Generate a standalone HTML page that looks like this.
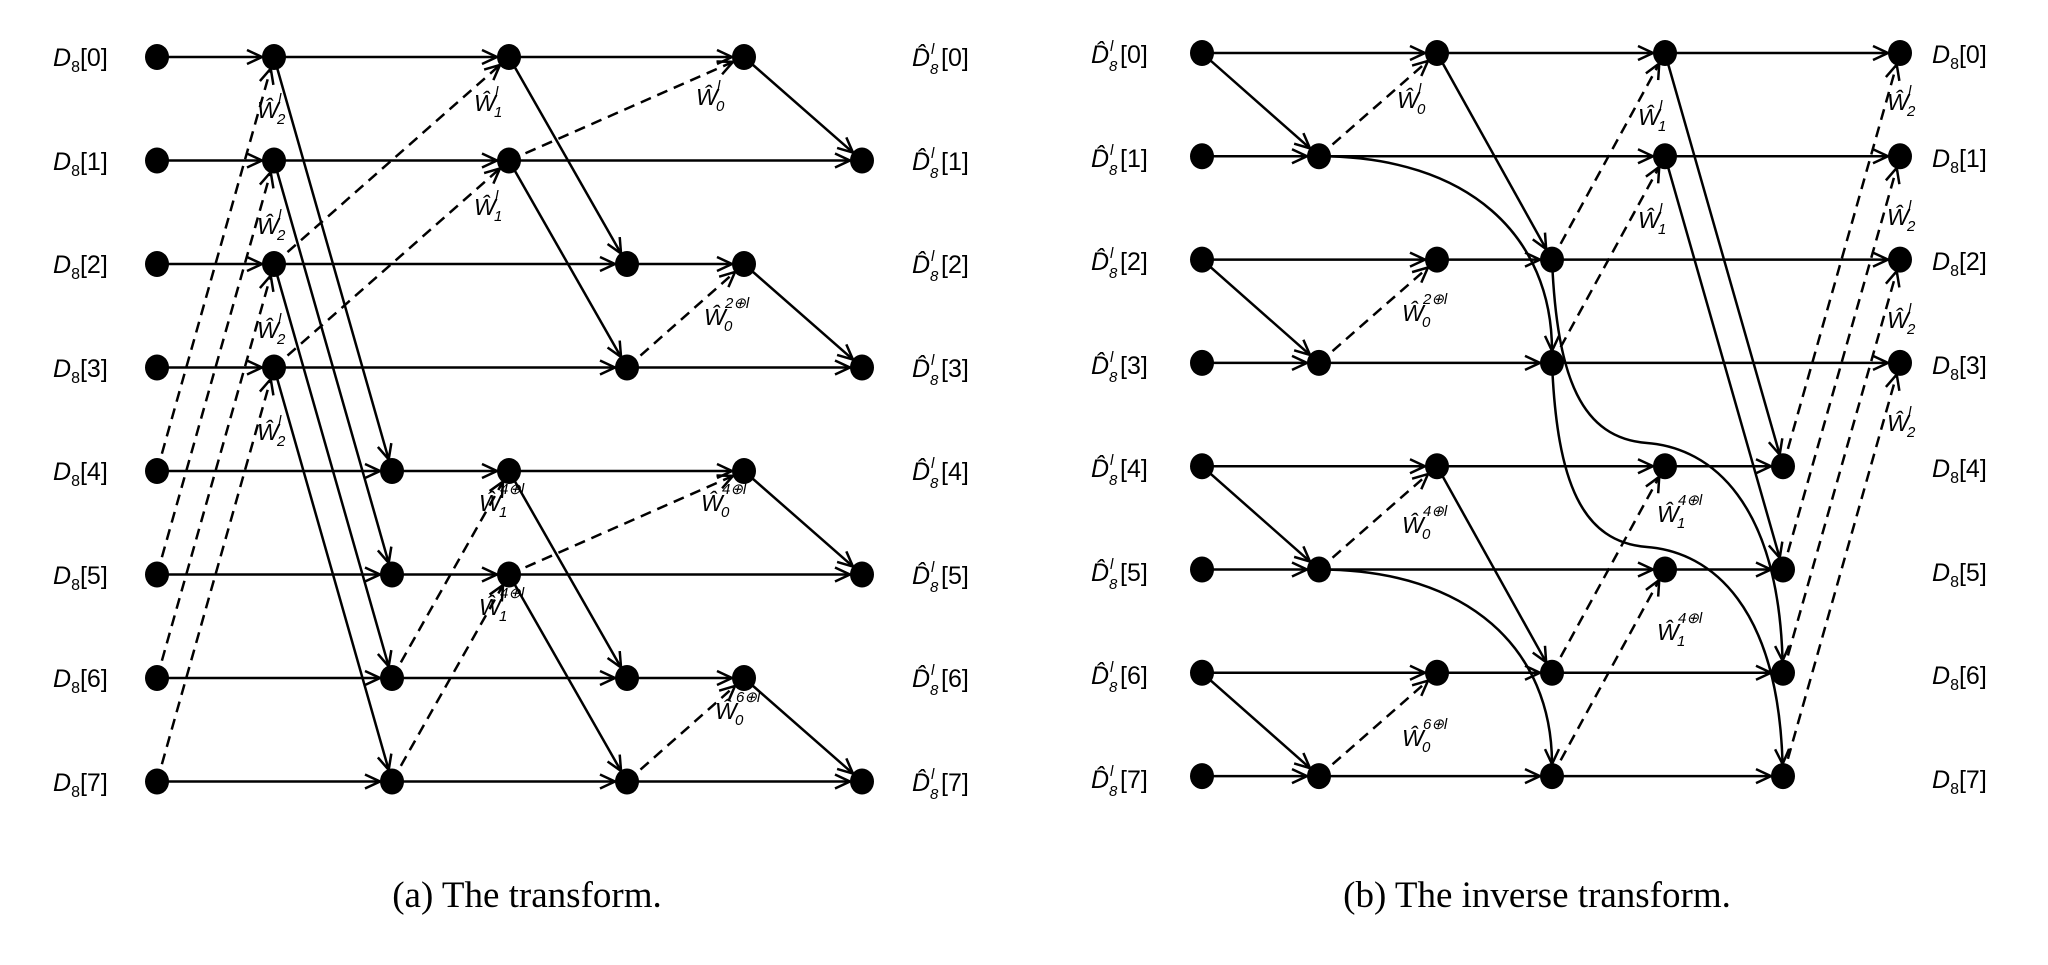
<!DOCTYPE html>
<html><head><meta charset="utf-8"><style>
html,body{margin:0;padding:0;background:#fff;}
svg{display:block;}
.L{font-family:"Liberation Sans",sans-serif;font-size:25px;fill:#000;}
.i{font-style:italic;}
.s{font-family:"Liberation Sans",sans-serif;font-size:15px;fill:#000;font-style:italic;}
.w{font-family:"Liberation Sans",sans-serif;font-size:23px;font-style:italic;fill:#000;}
.cap{font-family:"Liberation Serif",serif;font-size:37px;fill:#000;}
</style></head><body>
<svg id="g" width="2048" height="965" viewBox="0 0 2048 965" xmlns="http://www.w3.org/2000/svg">
<g id="edges"></g><g id="nodes"></g>
<!-- Left input labels -->
<text x="53" y="66" class="L"><tspan class="i">D</tspan><tspan font-size="16" dy="6">8</tspan><tspan dy="-6">[0]</tspan></text>
<text x="53" y="170" class="L"><tspan class="i">D</tspan><tspan font-size="16" dy="6">8</tspan><tspan dy="-6">[1]</tspan></text>
<text x="53" y="273" class="L"><tspan class="i">D</tspan><tspan font-size="16" dy="6">8</tspan><tspan dy="-6">[2]</tspan></text>
<text x="53" y="377" class="L"><tspan class="i">D</tspan><tspan font-size="16" dy="6">8</tspan><tspan dy="-6">[3]</tspan></text>
<text x="53" y="480" class="L"><tspan class="i">D</tspan><tspan font-size="16" dy="6">8</tspan><tspan dy="-6">[4]</tspan></text>
<text x="53" y="584" class="L"><tspan class="i">D</tspan><tspan font-size="16" dy="6">8</tspan><tspan dy="-6">[5]</tspan></text>
<text x="53" y="687" class="L"><tspan class="i">D</tspan><tspan font-size="16" dy="6">8</tspan><tspan dy="-6">[6]</tspan></text>
<text x="53" y="791" class="L"><tspan class="i">D</tspan><tspan font-size="16" dy="6">8</tspan><tspan dy="-6">[7]</tspan></text>
<!-- Left output hat labels -->
<g transform="translate(-21,0)">
<text x="933" y="66" class="L i">D̂</text><text x="952" y="54" class="s">l</text><text x="951" y="74" class="s" font-style="normal">8</text><text x="962" y="66" class="L">[0]</text>
<text x="933" y="170" class="L i">D̂</text><text x="952" y="158" class="s">l</text><text x="951" y="178" class="s" font-style="normal">8</text><text x="962" y="170" class="L">[1]</text>
<text x="933" y="273" class="L i">D̂</text><text x="952" y="261" class="s">l</text><text x="951" y="281" class="s" font-style="normal">8</text><text x="962" y="273" class="L">[2]</text>
<text x="933" y="377" class="L i">D̂</text><text x="952" y="365" class="s">l</text><text x="951" y="385" class="s" font-style="normal">8</text><text x="962" y="377" class="L">[3]</text>
<text x="933" y="480" class="L i">D̂</text><text x="952" y="468" class="s">l</text><text x="951" y="488" class="s" font-style="normal">8</text><text x="962" y="480" class="L">[4]</text>
<text x="933" y="584" class="L i">D̂</text><text x="952" y="572" class="s">l</text><text x="951" y="592" class="s" font-style="normal">8</text><text x="962" y="584" class="L">[5]</text>
<text x="933" y="687" class="L i">D̂</text><text x="952" y="675" class="s">l</text><text x="951" y="695" class="s" font-style="normal">8</text><text x="962" y="687" class="L">[6]</text>
<text x="933" y="791" class="L i">D̂</text><text x="952" y="779" class="s">l</text><text x="951" y="799" class="s" font-style="normal">8</text><text x="962" y="791" class="L">[7]</text>
</g>
<!-- Right input hat labels -->
<text x="1091" y="63" class="L i">D̂</text><text x="1110" y="51" class="s">l</text><text x="1109" y="71" class="s" font-style="normal">8</text><text x="1120" y="63" class="L">[0]</text>
<text x="1091" y="167" class="L i">D̂</text><text x="1110" y="155" class="s">l</text><text x="1109" y="175" class="s" font-style="normal">8</text><text x="1120" y="167" class="L">[1]</text>
<text x="1091" y="270" class="L i">D̂</text><text x="1110" y="258" class="s">l</text><text x="1109" y="278" class="s" font-style="normal">8</text><text x="1120" y="270" class="L">[2]</text>
<text x="1091" y="374" class="L i">D̂</text><text x="1110" y="362" class="s">l</text><text x="1109" y="382" class="s" font-style="normal">8</text><text x="1120" y="374" class="L">[3]</text>
<text x="1091" y="477" class="L i">D̂</text><text x="1110" y="465" class="s">l</text><text x="1109" y="485" class="s" font-style="normal">8</text><text x="1120" y="477" class="L">[4]</text>
<text x="1091" y="581" class="L i">D̂</text><text x="1110" y="569" class="s">l</text><text x="1109" y="589" class="s" font-style="normal">8</text><text x="1120" y="581" class="L">[5]</text>
<text x="1091" y="684" class="L i">D̂</text><text x="1110" y="672" class="s">l</text><text x="1109" y="692" class="s" font-style="normal">8</text><text x="1120" y="684" class="L">[6]</text>
<text x="1091" y="788" class="L i">D̂</text><text x="1110" y="776" class="s">l</text><text x="1109" y="796" class="s" font-style="normal">8</text><text x="1120" y="788" class="L">[7]</text>
<!-- Right output labels -->
<g transform="translate(-15,0)">
<text x="1947" y="63" class="L"><tspan class="i">D</tspan><tspan font-size="16" dy="6">8</tspan><tspan dy="-6">[0]</tspan></text>
<text x="1947" y="167" class="L"><tspan class="i">D</tspan><tspan font-size="16" dy="6">8</tspan><tspan dy="-6">[1]</tspan></text>
<text x="1947" y="270" class="L"><tspan class="i">D</tspan><tspan font-size="16" dy="6">8</tspan><tspan dy="-6">[2]</tspan></text>
<text x="1947" y="374" class="L"><tspan class="i">D</tspan><tspan font-size="16" dy="6">8</tspan><tspan dy="-6">[3]</tspan></text>
<text x="1947" y="477" class="L"><tspan class="i">D</tspan><tspan font-size="16" dy="6">8</tspan><tspan dy="-6">[4]</tspan></text>
<text x="1947" y="581" class="L"><tspan class="i">D</tspan><tspan font-size="16" dy="6">8</tspan><tspan dy="-6">[5]</tspan></text>
<text x="1947" y="684" class="L"><tspan class="i">D</tspan><tspan font-size="16" dy="6">8</tspan><tspan dy="-6">[6]</tspan></text>
<text x="1947" y="788" class="L"><tspan class="i">D</tspan><tspan font-size="16" dy="6">8</tspan><tspan dy="-6">[7]</tspan></text>
</g>
<!-- W labels left -->
<g transform="translate(-9,0)">
<text x="266" y="118" class="w">Ŵ</text><text x="287" y="104" class="s">l</text><text x="286" y="124" class="s" font-style="normal">2</text>
<text x="266" y="234" class="w">Ŵ</text><text x="287" y="220" class="s">l</text><text x="286" y="240" class="s" font-style="normal">2</text>
<text x="266" y="338" class="w">Ŵ</text><text x="287" y="324" class="s">l</text><text x="286" y="344" class="s" font-style="normal">2</text>
<text x="266" y="440" class="w">Ŵ</text><text x="287" y="426" class="s">l</text><text x="286" y="446" class="s" font-style="normal">2</text>
</g>
<g transform="translate(-10,0)">
<text x="484" y="111" class="w">Ŵ</text><text x="505" y="97" class="s">l</text><text x="504" y="117" class="s" font-style="normal">1</text>
<text x="484" y="215" class="w">Ŵ</text><text x="505" y="201" class="s">l</text><text x="504" y="221" class="s" font-style="normal">1</text>
</g>
<g transform="translate(-14,0)">
<text x="710" y="105" class="w">Ŵ</text><text x="731" y="91" class="s">l</text><text x="730" y="111" class="s" font-style="normal">0</text>
<text x="718" y="325" class="w">Ŵ</text><text x="739" y="308" class="s" font-style="normal">2⊕<tspan font-style="italic">l</tspan></text><text x="738" y="331" class="s" font-style="normal">0</text>
</g>
<g transform="translate(-11,0)">
<text x="490" y="511" class="w">Ŵ</text><text x="511" y="494" class="s" font-style="normal">4⊕<tspan font-style="italic">l</tspan></text><text x="510" y="517" class="s" font-style="normal">1</text>
<text x="490" y="615" class="w">Ŵ</text><text x="511" y="598" class="s" font-style="normal">4⊕<tspan font-style="italic">l</tspan></text><text x="510" y="621" class="s" font-style="normal">1</text>
</g>
<g transform="translate(-15,0)">
<text x="716" y="511" class="w">Ŵ</text><text x="737" y="494" class="s" font-style="normal">4⊕<tspan font-style="italic">l</tspan></text><text x="736" y="517" class="s" font-style="normal">0</text>
<text x="730" y="719" class="w">Ŵ</text><text x="751" y="702" class="s" font-style="normal">6⊕<tspan font-style="italic">l</tspan></text><text x="750" y="725" class="s" font-style="normal">0</text>
</g>
<!-- W labels right -->
<g transform="translate(-7,0)">
<text x="1404" y="108" class="w">Ŵ</text><text x="1425" y="94" class="s">l</text><text x="1424" y="114" class="s" font-style="normal">0</text>
</g>
<g transform="translate(-13,0)">
<text x="1651" y="125" class="w">Ŵ</text><text x="1672" y="111" class="s">l</text><text x="1671" y="131" class="s" font-style="normal">1</text>
<text x="1651" y="228" class="w">Ŵ</text><text x="1672" y="214" class="s">l</text><text x="1671" y="234" class="s" font-style="normal">1</text>
</g>
<g transform="translate(-17,0)">
<text x="1904" y="110" class="w">Ŵ</text><text x="1925" y="96" class="s">l</text><text x="1924" y="116" class="s" font-style="normal">2</text>
<text x="1904" y="225" class="w">Ŵ</text><text x="1925" y="211" class="s">l</text><text x="1924" y="231" class="s" font-style="normal">2</text>
<text x="1904" y="328" class="w">Ŵ</text><text x="1925" y="314" class="s">l</text><text x="1924" y="334" class="s" font-style="normal">2</text>
<text x="1904" y="431" class="w">Ŵ</text><text x="1925" y="417" class="s">l</text><text x="1924" y="437" class="s" font-style="normal">2</text>
</g>
<g transform="translate(-8,0)">
<text x="1410" y="321" class="w">Ŵ</text><text x="1431" y="304" class="s" font-style="normal">2⊕<tspan font-style="italic">l</tspan></text><text x="1430" y="327" class="s" font-style="normal">0</text>
<text x="1410" y="533" class="w">Ŵ</text><text x="1431" y="516" class="s" font-style="normal">4⊕<tspan font-style="italic">l</tspan></text><text x="1430" y="539" class="s" font-style="normal">0</text>
<text x="1410" y="746" class="w">Ŵ</text><text x="1431" y="729" class="s" font-style="normal">6⊕<tspan font-style="italic">l</tspan></text><text x="1430" y="752" class="s" font-style="normal">0</text>
</g>
<g transform="translate(-13,0)">
<text x="1670" y="522" class="w">Ŵ</text><text x="1691" y="505" class="s" font-style="normal">4⊕<tspan font-style="italic">l</tspan></text><text x="1690" y="528" class="s" font-style="normal">1</text>
<text x="1670" y="640" class="w">Ŵ</text><text x="1691" y="623" class="s" font-style="normal">4⊕<tspan font-style="italic">l</tspan></text><text x="1690" y="646" class="s" font-style="normal">1</text>
</g>
<!-- captions -->
<text x="527" y="907" class="cap" text-anchor="middle">(a) The transform.</text>
<text x="1537" y="907" class="cap" text-anchor="middle">(b) The inverse transform.</text>
</svg>
<script>
(function(){
var NS="http://www.w3.org/2000/svg";
var E=document.getElementById("edges"),N=document.getElementById("nodes");
var R=12;
function el(t,a,p){var e=document.createElementNS(NS,t);for(var k in a)e.setAttribute(k,a[k]);p.appendChild(e);return e;}
function head(tx,ty,dx,dy){var L=Math.hypot(dx,dy);dx/=L;dy/=L;var len=15,w=7;
 var bx=tx-dx*len,by=ty-dy*len,px=-dy,py=dx;
 el("path",{d:"M"+(bx+px*w)+","+(by+py*w)+"L"+tx+","+ty+"L"+(bx-px*w)+","+(by-py*w),fill:"none",stroke:"#000","stroke-width":2.5},E);}
function line(x1,y1,x2,y2,d){var dx=x2-x1,dy=y2-y1,L=Math.hypot(dx,dy);
 var tx=x2-dx/L*R,ty=y2-dy/L*R;
 var a={x1:x1,y1:y1,x2:tx,y2:ty,stroke:"#000","stroke-width":2.5};if(d)a["stroke-dasharray"]="11 7";
 el("line",a,E);head(tx,ty,dx,dy);}
function curve(p,cx,cy,ex,ey){
 var dx=ex-cx,dy=ey-cy,L=Math.hypot(dx,dy);var tx=ex-dx/L*R,ty=ey-dy/L*R;
 el("path",{d:p+" "+tx+","+ty,fill:"none",stroke:"#000","stroke-width":2.5},E);head(tx,ty,dx,dy);}
function dot(x,y){el("ellipse",{cx:x,cy:y,rx:12,ry:13,fill:"#000"},N);}
// Left
var X=[157,274,392,509,627,744,862];function Y(i){return 57+103.5*i;}
var rowsL=[[0,1,3,5],[0,1,3,6],[0,1,4,5],[0,1,4,6],[0,2,3,5],[0,2,3,6],[0,2,4,5],[0,2,4,6]];
rowsL.forEach(function(r,i){r.forEach(function(c,j){dot(X[c],Y(i));if(j>0)line(X[r[j-1]],Y(i),X[c],Y(i));});});
function LL(a,b,c,d,dash){line(X[a],Y(b),X[c],Y(d),dash);}
for(var k=0;k<4;k++){LL(1,k,2,k+4);LL(0,k+4,1,k,1);}
LL(3,0,4,2);LL(3,1,4,3);LL(3,4,4,6);LL(3,5,4,7);
LL(1,2,3,0,1);LL(1,3,3,1,1);LL(2,6,3,4,1);LL(2,7,3,5,1);
LL(5,0,6,1);LL(5,2,6,3);LL(5,4,6,5);LL(5,6,6,7);
LL(3,1,5,0,1);LL(4,3,5,2,1);LL(3,5,5,4,1);LL(4,7,5,6,1);
// Right
var RX=[1202,1319,1437,1552,1665,1783,1900];function RY(i){return 53+103.3*i;}
var rowsR=[[0,2,4,6],[0,1,4,6],[0,2,3,6],[0,1,3,6],[0,2,4,5],[0,1,4,5],[0,2,3,5],[0,1,3,5]];
rowsR.forEach(function(r,i){r.forEach(function(c,j){dot(RX[c],RY(i));if(j>0)line(RX[r[j-1]],RY(i),RX[c],RY(i));});});
function RL(a,b,c,d,dash){line(RX[a],RY(b),RX[c],RY(d),dash);}
[0,2,4,6].forEach(function(k){RL(0,k,1,k+1);RL(1,k+1,2,k,1);});
RL(2,0,3,2);RL(2,4,3,6);
RL(3,2,4,0,1);RL(3,3,4,1,1);RL(3,6,4,4,1);RL(3,7,4,5,1);
RL(4,0,5,4);RL(4,1,5,5);
for(var k=0;k<4;k++)RL(5,k+4,6,k,1);
function c1(r0,r1){var x0=RX[1],y0=RY(r0),x1=RX[3],y1=RY(r1);
 curve("M"+x0+","+y0+" C"+(x0+150)+","+y0+" "+(x1)+","+(y0+80)+" ",x1,y1-60,x1,y1);}
c1(1,3);c1(5,7);
function s(r0,r1){var x0=RX[3],y0=RY(r0),x1=RX[5],y1=RY(r1);var my=(r0==2?443:547);
 curve("M"+x0+","+y0+" C"+(x0+5)+","+(y0+120)+" "+(x0+30)+","+(my-5)+" "+(x0+95)+","+my+" C"+(x0+160)+","+(my+5)+" "+(x1-5)+","+(my+60)+" ",x1-2,y1-60,x1,y1);}
s(2,6);s(3,7);
})();
</script>
</body></html>
